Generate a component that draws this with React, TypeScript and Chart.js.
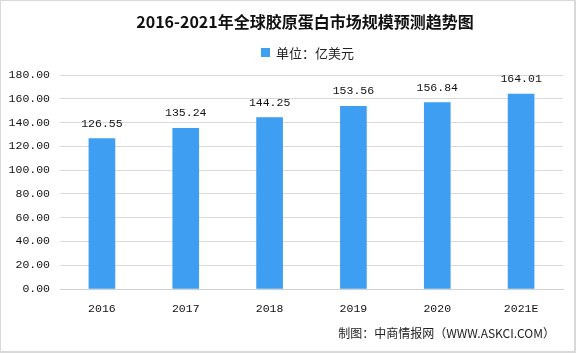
import React, { useEffect, useRef } from "react";
import { Chart, registerables } from "chart.js";

Chart.register(...registerables);

const categories = ["2016", "2017", "2018", "2019", "2020", "2021E"];
const values = [126.55, 135.24, 144.25, 153.56, 156.84, 164.01];
const seriesName = "单位：亿美元";
const titleText = "2016-2021年全球胶原蛋白市场规模预测趋势图";
const sourceText = "制图：中商情报网（WWW.ASKCI.COM）";
const yMin = 0;
const yMax = 180;
const yStep = 20;

const BAR_COLOR = "#3d9ef2";
const MONO = "'Liberation Mono', 'DejaVu Sans Mono', monospace";
const CJK = "'Noto Sans CJK SC', 'Noto Sans', sans-serif";

const decorPlugin = {
  id: "decor",
  afterDraw(chart: any) {
    const ctx = chart.ctx;
    const w = chart.width;
    const h = chart.height;
    ctx.save();
    // border
    ctx.strokeStyle = "#d9d9d9";
    ctx.lineWidth = 2;
    ctx.strokeRect(0, 0, w - 1, h - 1);
    // title
    ctx.fillStyle = "#111111";
    ctx.font = `bold 16px ${CJK}`;
    ctx.textAlign = "center";
    ctx.textBaseline = "middle";
    ctx.fillText(titleText, 305, 22);
    // legend
    ctx.fillStyle = BAR_COLOR;
    ctx.fillRect(261, 48, 9, 9);
    ctx.fillStyle = "#222222";
    ctx.font = `13px ${CJK}`;
    ctx.textAlign = "left";
    ctx.fillText(seriesName, 276, 53);
    // source
    ctx.font = `12px ${CJK}`;
    ctx.textAlign = "right";
    ctx.fillText(sourceText, 555, 333);
    // data labels
    const meta = chart.getDatasetMeta(0);
    ctx.font = `11.5px ${MONO}`;
    ctx.textAlign = "center";
    ctx.textBaseline = "middle";
    ctx.fillStyle = "#111111";
    meta.data.forEach((bar: any, i: number) => {
      ctx.fillText(values[i].toFixed(2), bar.x, bar.y - 15);
    });
    ctx.restore();
  },
};

export default function App() {
  const ref = useRef<HTMLCanvasElement | null>(null);
  useEffect(() => {
    document.body.style.margin = "0";
    const chart = new Chart(ref.current as HTMLCanvasElement, {
      type: "bar",
      data: {
        labels: categories,
        datasets: [
          {
            label: seriesName,
            data: values,
            backgroundColor: BAR_COLOR,
            barThickness: 26,
          },
        ],
      },
      options: {
        animation: false,
        responsive: false,
        devicePixelRatio: 1,
        layout: { padding: { top: 75, right: 13, bottom: 34, left: 0 } },
        plugins: {
          legend: { display: false },
          title: { display: false },
          tooltip: { enabled: false },
        },
        scales: {
          x: {
            grid: { display: false },
            border: { display: true, color: "#d0d0d0", width: 1 },
            ticks: {
              color: "#111111",
              font: { family: MONO, size: 11.5 },
              padding: 5,
              maxRotation: 0,
            },
            afterFit(scale: any) {
              scale.height = 30;
            },
          },
          y: {
            min: yMin,
            max: yMax,
            grid: { color: "#d9d9d9", drawTicks: false },
            border: { display: false },
            ticks: {
              stepSize: yStep,
              color: "#111111",
              font: { family: MONO, size: 11.5 },
              padding: 10,
              callback: (v: any) => Number(v).toFixed(2),
            },
            afterFit(scale: any) {
              scale.width = 60;
            },
          },
        },
      },
      plugins: [decorPlugin],
    });
    return () => chart.destroy();
  }, []);
  return <canvas ref={ref} width={576} height={353} style={{ display: "block" }} />;
}
